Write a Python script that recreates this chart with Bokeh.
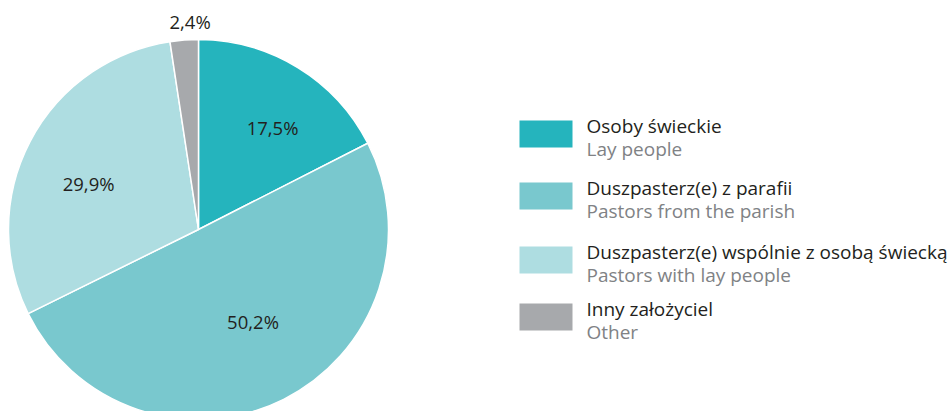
import numpy as np
from bokeh.plotting import figure
from bokeh.models import ColumnDataSource, Range1d
from bokeh.core.properties import value
from bokeh.embed import file_html
from bokeh.resources import INLINE

# ---- data ----
labels_pl = ["Osoby świeckie", "Duszpasterz(e) z parafii",
             "Duszpasterz(e) wspólnie z osobą świecką", "Inny założyciel"]
labels_en = ["Lay people", "Pastors from the parish", "Pastors with lay people", "Other"]
shares = [17.5, 50.2, 29.9, 2.4]
share_labels = ["17,5%", "50,2%", "29,9%", "2,4%"]
colors = ["#25b4bd", "#79c8ce", "#aedde1", "#a7a9ac"]

# ---- layout ----
W, H = 952, 411
FONT = "Open Sans"
def X(px): return px
def Y(py): return H - py

cx, cy, R = X(198), Y(229), 190
lab_r = [126, 107, 119, 208]
lab_dang = [-4.5, 4, 5, -2]

p = figure(width=W, height=H, x_range=Range1d(0, W), y_range=Range1d(0, H),
           output_backend="svg", toolbar_location=None, min_border=0)
p.axis.visible = False
p.grid.visible = False
p.outline_line_color = None

tot = sum(shares)
cum = np.cumsum([0] + shares) / tot
start = np.pi / 2 - cum[1:] * 2 * np.pi
end = np.pi / 2 - cum[:-1] * 2 * np.pi
mid = (start + end) / 2

src = ColumnDataSource(dict(start=start, end=end, color=colors))
p.wedge(x=cx, y=cy, radius=R, start_angle="start", end_angle="end",
        fill_color="color", line_color="white", line_width=1.5, source=src)

ang = mid + np.radians(lab_dang)
lx = cx + np.array(lab_r) * np.cos(ang)
ly = cy + np.array(lab_r) * np.sin(ang)
p.text(x=lx, y=ly, text=share_labels, text_font=value(FONT), text_font_size="18.5px",
       text_color="#231f20", text_align="center", text_baseline="middle")

# legend
leg_top = [120, 182, 246, 303]
sq_x0, sq_w, sq_h = X(519), 53, 27
for i in range(4):
    t = Y(leg_top[i])
    p.quad(left=sq_x0, right=sq_x0 + sq_w, top=t, bottom=t - sq_h,
           fill_color=colors[i], line_color=None)
    p.text(x=[X(586)], y=[t - 5], text=[labels_pl[i]], text_font=value(FONT),
           text_font_size="19px", text_color="#231f20", text_baseline="middle")
    p.text(x=[X(586)], y=[t - 28], text=[labels_en[i]], text_font=value(FONT),
           text_font_size="19px", text_color="#808285", text_baseline="middle")

open("out.html", "w").write(file_html(p, INLINE))
